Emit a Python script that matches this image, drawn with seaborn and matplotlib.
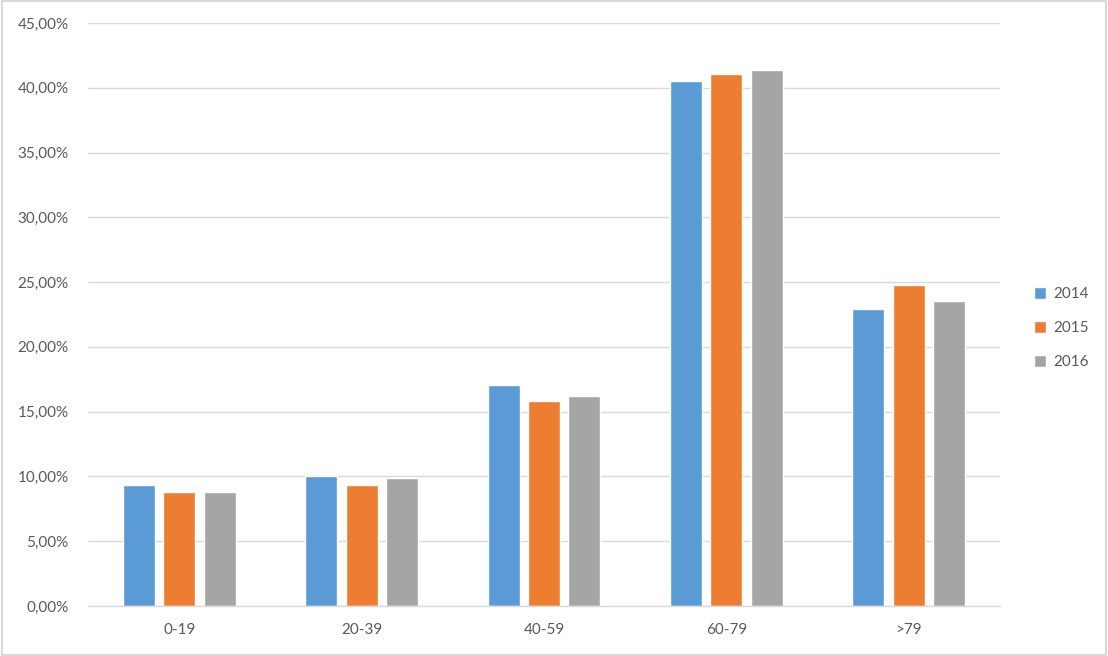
import matplotlib
matplotlib.use("Agg")
import matplotlib.pyplot as plt
from matplotlib.patches import Rectangle
from matplotlib.ticker import FuncFormatter
import seaborn as sns
import pandas as pd

categories = ["0-19", "20-39", "40-59", "60-79", ">79"]
years = ["2014", "2015", "2016"]
v2014 = [9.36, 10.05, 17.09, 40.49, 22.91]
v2015 = [8.82, 9.36, 15.85, 41.03, 24.77]
v2016 = [8.82, 9.90, 16.24, 41.41, 23.53]
colors = ["#5B9BD5", "#ED7D31", "#A5A5A5"]

rows = []
for y, vals in zip(years, [v2014, v2015, v2016]):
    for c, v in zip(categories, vals):
        rows.append({"cat": c, "year": y, "val": v})
df = pd.DataFrame(rows)

sns.set_theme(style="white")
plt.rcParams['font.family'] = ['Lato', 'DejaVu Sans']

fig = plt.figure(figsize=(11.08, 6.56), dpi=100)
ax = fig.add_axes([88/1108, 50/656, 912/1108, 583/656])

sns.barplot(data=df, x="cat", y="val", hue="year", order=categories,
            hue_order=years, palette=colors, width=0.666, gap=0.21,
            saturation=1, ax=ax, legend=True)

ax.set_ylim(0, 45)
ax.set_xlim(-0.5, 4.5)
ax.set_yticks([0, 5, 10, 15, 20, 25, 30, 35, 40, 45])
ax.yaxis.set_major_formatter(FuncFormatter(lambda v, p: f"{v:.2f}".replace(".", ",") + "%"))
ax.grid(axis="y", color="#d9d9d9", linewidth=1)
ax.set_axisbelow(True)
for s in ["top", "right", "left"]:
    ax.spines[s].set_visible(False)
ax.spines["bottom"].set_color("#d9d9d9")
ax.spines["bottom"].set_linewidth(1)
ax.tick_params(axis="both", length=0, colors="#595959", labelsize=11)
ax.tick_params(axis="y", pad=14)
ax.tick_params(axis="x", pad=12)
ax.set_xlabel("")
ax.set_ylabel("")

handles, labels = ax.get_legend_handles_labels()
ax.legend(handles, labels, loc="center left", bbox_to_anchor=(1020/1108, 0.5),
          bbox_transform=fig.transFigure, frameon=False, fontsize=11,
          labelcolor="#595959", handlelength=0.8, handleheight=0.8,
          handletextpad=0.5, labelspacing=1.3)

fig.patches.append(Rectangle((0.0015, 0.002), 0.997, 0.996, transform=fig.transFigure,
                             fill=False, edgecolor="#d9d9d9", linewidth=1.5))

fig.savefig("out.png", dpi=100, facecolor="white")
